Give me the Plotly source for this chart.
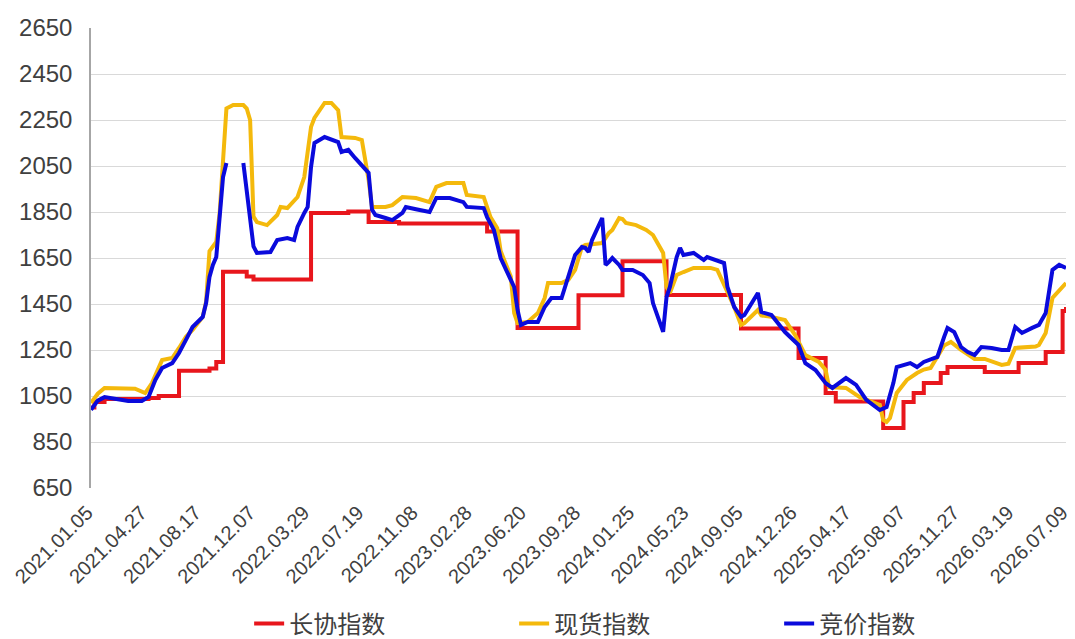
import plotly.graph_objects as go

# week index -> tick labels (every 16 weeks)
tick_labels = ["2021.01.05", "2021.04.27", "2021.08.17", "2021.12.07", "2022.03.29",
               "2022.07.19", "2022.11.08", "2023.02.28", "2023.06.20", "2023.09.28",
               "2024.01.25", "2024.05.23", "2024.09.05", "2024.12.26", "2025.04.17",
               "2025.08.07", "2025.11.27", "2026.03.19", "2026.07.09"]
tick_pos = [0, 16, 32, 48, 64, 80, 96, 112, 128, 144, 160, 176, 192, 208, 224, 240, 256, 272, 288]

# 长协指数 (step changes: week index, value)
red_x = [0, 1, 4, 17, 20, 26, 35, 37, 39, 46, 48, 65, 76, 82, 91, 117, 126, 144, 157, 170,
         192, 209, 217, 220, 234, 240, 243, 246, 251, 253, 264, 274, 282, 287, 288]
red_y = [1000, 1024, 1037, 1041, 1050, 1160, 1170, 1198, 1590, 1570, 1557, 1846, 1852, 1806, 1800, 1765, 1346, 1488, 1636, 1489,
         1343, 1215, 1063, 1026, 911, 1024, 1063, 1106, 1150, 1176, 1154, 1193, 1241, 1420, 1437]

# 现货指数
yel_x = [0, 2, 4, 9, 13, 16, 18, 21, 24, 26, 28, 30, 33, 34, 35, 36, 37, 38, 39, 40, 42, 45, 46, 47, 48, 49,
         52, 55, 56, 58, 61, 63, 65, 66, 69, 71, 73, 74, 78, 80, 82, 83, 87, 89, 92, 96, 100, 102, 105, 110,
         111, 116, 118, 120, 121, 124, 125, 126, 129, 132, 134, 135, 139, 141, 143, 145, 146, 151, 153, 154,
         156, 157, 158, 161, 164, 166, 169, 170, 171, 173, 175, 178, 183, 185, 190, 192, 193, 197, 198, 201,
         205, 208, 211, 215, 217, 218, 223, 227, 233, 234, 235, 236, 238, 241, 244, 246, 248, 252, 254, 257,
         261, 264, 269, 271, 273, 279, 280, 282, 284, 288]
yel_y = [1020, 1060, 1085, 1085, 1082, 1063, 1106, 1206, 1215, 1259, 1307, 1337, 1394, 1460, 1680, 1700, 1720, 1846, 2100, 2300, 2315, 2315, 2300, 2250, 1830, 1806,
         1793, 1837, 1872, 1867, 1915, 2002, 2220, 2259, 2324, 2324, 2293, 2176, 2172, 2163, 1990, 1872, 1872, 1880, 1915, 1911, 1893, 1959, 1976, 1976,
         1924, 1915, 1828, 1780, 1680, 1570, 1411, 1367, 1372, 1411, 1476, 1541, 1541, 1555, 1598, 1698, 1707, 1715, 1759, 1772,
         1824, 1820, 1802, 1793, 1772, 1750, 1672, 1524, 1498, 1576, 1589, 1607, 1607, 1598, 1437, 1359, 1367, 1424, 1400, 1394,
         1380, 1315, 1228, 1198, 1163, 1089, 1085, 1046, 1011, 946, 937, 954, 1063, 1120, 1150, 1165, 1172, 1270, 1285, 1250,
         1211, 1211, 1185, 1190, 1259, 1265, 1272, 1324, 1476, 1541]

# 竞价指数 (None = no data)
blu_x = [0, 2, 4, 7, 11, 15, 17, 19, 21, 24, 26, 28, 30, 33, 34, 35, 36, 37, 38, 39, 40, 43, 45, 46, 47, 48, 49,
         53, 55, 58, 60, 61, 63, 64, 65, 66, 69, 71, 73, 74, 76, 78, 80, 82, 83, 84, 87, 89, 92, 93, 96, 100,
         102, 106, 110, 111, 116, 117, 119, 121, 124, 125, 126, 127, 129, 132, 134, 136, 139, 141, 143, 145, 146,
         147, 148, 151, 152, 153, 154, 156, 157, 160, 163, 165, 166, 169, 170, 171, 173, 174, 175, 178, 181, 182,
         185, 187, 188, 190, 192, 193, 197, 198, 201, 205, 209, 211, 214, 217, 219, 223, 226, 229, 233, 235, 237,
         238, 242, 244, 246, 250, 252, 253, 255, 257, 259, 261, 263, 266, 269, 271, 273, 275, 278, 280, 282, 284,
         286, 288]
blu_y = [990, 1030, 1045, 1037, 1028, 1028, 1046, 1120, 1172, 1193, 1237, 1293, 1350, 1394, 1454, 1568, 1620, 1654, 1828, 2002, 2063, None, 2063, 1946, 1800, 1700, 1672,
         1676, 1728, 1737, 1728, 1785, 1846, 1872, 2046, 2150, 2176, 2163, 2154, 2111, 2120, 2085, 2055, 2020, 1860, 1837, 1824, 1815, 1846, 1872, 1862, 1850,
         1911, 1911, 1893, 1872, 1867, 1828, 1772, 1650, 1555, 1524, 1424, 1359, 1372, 1372, 1437, 1476, 1476, 1568, 1663, 1698, 1694,
         1676, 1728, 1824, 1620, 1633, 1650, 1620, 1598, 1598, 1576, 1541, 1454, 1329, 1480, 1524, 1654, 1694, 1663, 1672, 1641, 1654,
         1641, 1628, 1524, 1437, 1394, 1402, 1498, 1415, 1402, 1328, 1272, 1193, 1163, 1106, 1085, 1128, 1098, 1033, 989, 1002, 1106,
         1176, 1193, 1176, 1198, 1220, 1307, 1346, 1328, 1263, 1241, 1228, 1263, 1259, 1250, 1250, 1350, 1324, 1346, 1359, 1411, 1598,
         1620, 1607]

fig = go.Figure()
fig.add_trace(go.Scatter(x=red_x, y=red_y, mode="lines", name="长协指数",
                         line=dict(color="#E8161C", width=4, shape="hv")))
fig.add_trace(go.Scatter(x=yel_x, y=yel_y, mode="lines", name="现货指数",
                         line=dict(color="#F4B90C", width=4)))
fig.add_trace(go.Scatter(x=blu_x, y=blu_y, mode="lines", name="竞价指数", connectgaps=False,
                         line=dict(color="#0A0ADC", width=4)))

# page body has an 8px margin, so the figure is sized to end at the window edge
fig.update_layout(
    width=1067, height=631,
    margin=dict(l=83, r=9, t=20, b=151),
    plot_bgcolor="white", paper_bgcolor="white",
    font=dict(family="Noto Sans CJK SC, Liberation Sans, sans-serif", size=22, color="#404040"),
    showlegend=True,
    legend=dict(orientation="h", xref="container", yref="container",
                x=0.226, y=0.024, xanchor="left", yanchor="middle",
                entrywidth=220, entrywidthmode="pixels",
                font=dict(size=24, color="#404040")),
)
fig.update_xaxes(range=[0, 288], tickmode="array", tickvals=tick_pos, ticktext=tick_labels,
                 tickangle=-45, showgrid=False, showline=False, zeroline=False, ticks="",
                 automargin=False, ticklabeloverflow="allow",
                 ticklabelshift=-4, ticklabelstandoff=8,
                 tickfont=dict(family="Liberation Sans, Arial, sans-serif", size=20, color="#404040"))
fig.update_yaxes(range=[650, 2650], tick0=650, dtick=200, showgrid=True, gridcolor="#d9d9d9",
                 gridwidth=1, showline=True, linecolor="#a6a6a6", linewidth=1.5, zeroline=False,
                 ticks="", ticklabelstandoff=12, automargin=False, ticklabeloverflow="allow",
                 tickfont=dict(family="Liberation Sans, Arial, sans-serif", size=24, color="#404040"))

fig.write_html("out.html")
